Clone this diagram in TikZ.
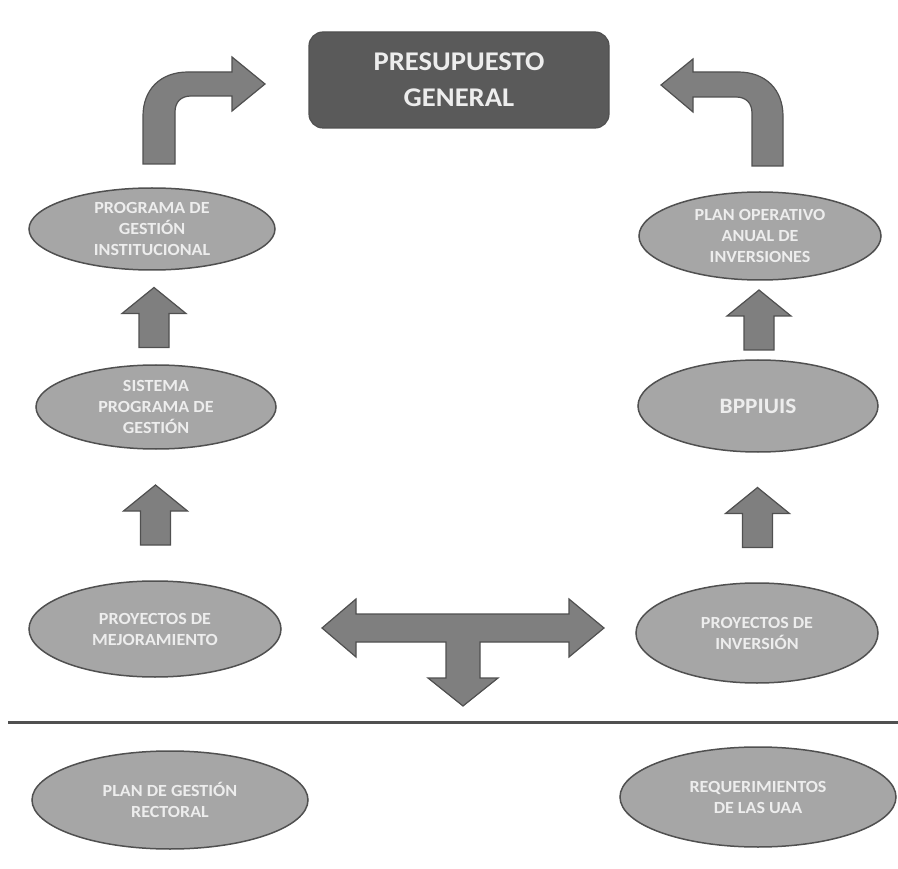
\documentclass[tikz,border=0pt]{standalone}
\usepackage{fontspec}
\setmainfont{Carlito}[FakeStretch=1.06]
\usetikzlibrary{shapes.geometric,calc}
\definecolor{boxgray}{HTML}{5A5A5A}
\definecolor{ovalgray}{HTML}{A6A6A6}
\definecolor{arrowgray}{HTML}{7F7F7F}
\definecolor{edgegray}{HTML}{505050}
\definecolor{textgray}{HTML}{EDEDED}
\tikzset{
  oval/.style={ellipse, draw=edgegray, line width=1.5pt, fill=ovalgray, text=textgray,
    font=\bfseries\fontsize{17}{21}\selectfont, align=center, inner sep=0pt},
  blk/.style={draw=edgegray, line width=1.2pt, fill=arrowgray, line join=miter},
  uparr/.pic={\draw[blk] (-15,30) -- (-15,-4) -- (-32,-4) -- (0,-30) -- (32,-4) -- (15,-4) -- (15,30) -- cycle;}
}
\begin{document}
\begin{tikzpicture}[x=1pt,y=-1pt]
\useasboundingbox (0,0) rectangle (898,869);

% top box
\node (pres) at (459,80) [rectangle, rounded corners=14pt, draw=edgegray, line width=1.2pt, fill=boxgray,
  minimum width=300pt, minimum height=96pt, text=textgray, align=center,
  font=\bfseries\fontsize{27}{36}\selectfont] {PRESUPUESTO\\GENERAL};

% left column
\node (prog) at (152,229) [oval, minimum width=246pt, minimum height=82pt] {PROGRAMA DE\\GESTIÓN\\INSTITUCIONAL};
\node (sis) at (156,407) [oval, minimum width=240pt, minimum height=84pt] {SISTEMA\\PROGRAMA DE\\GESTIÓN};
\node (mej) at (155,629) [oval, minimum width=252pt, minimum height=96pt] {PROYECTOS DE\\MEJORAMIENTO};

% right column
\node (plan) at (760,236) [oval, minimum width=242pt, minimum height=88pt] {PLAN OPERATIVO\\ANUAL DE\\INVERSIONES};
\node (bpp) at (758,406) [oval, minimum width=240pt, minimum height=92pt,
  font=\bfseries\fontsize{22}{24}\selectfont] {BPPIUIS};
\node (inv) at (757,633) [oval, minimum width=242pt, minimum height=100pt] {PROYECTOS DE\\INVERSIÓN};

% below the line
\node (rect) at (170,800) [oval, minimum width=276pt, minimum height=98pt] {PLAN DE GESTIÓN\\RECTORAL};
\node (req) at (758,797) [oval, minimum width=276pt, minimum height=100pt] {REQUERIMIENTOS\\DE LAS UAA};

% up arrows
\pic at ($(sis.north)!.5!(prog.south)$) {uparr};
\pic at ($(mej.north)!.5!(sis.south)$) {uparr};
\pic at ($(bpp.north)!.5!(plan.south)$) {uparr};
\pic at ($(inv.north)!.5!(bpp.south)$) {uparr};

% bent arrows into the box
\draw[blk] (143,164) -- (143,116) .. controls (143,90) and (160,72) .. (188,72) -- (232,72) -- (232,57)
  -- (265,84) -- (232,111) -- (232,96) -- (191,96) .. controls (181,96) and (175,102) .. (175,112) -- (175,164) -- cycle;
\draw[blk] (783,166) -- (783,116) .. controls (783,90) and (766,72) .. (738,72) -- (693,72) -- (693,59)
  -- (661,85) -- (693,112) -- (693,97) -- (736,97) .. controls (746,97) and (752,103) .. (752,113) -- (752,166) -- cycle;

% T arrow
\draw[blk] (322,628) -- (356,599) -- (356,614) -- (569,614) -- (569,599) -- (604,628) -- (569,657)
  -- (569,642) -- (480,642) -- (480,678) -- (498,678) -- (463,706) -- (428,678) -- (446,678)
  -- (446,642) -- (356,642) -- (356,657) -- cycle;

% separator
\draw[line width=3pt, edgegray] (8,722) -- (898,722);
\end{tikzpicture}
\end{document}
